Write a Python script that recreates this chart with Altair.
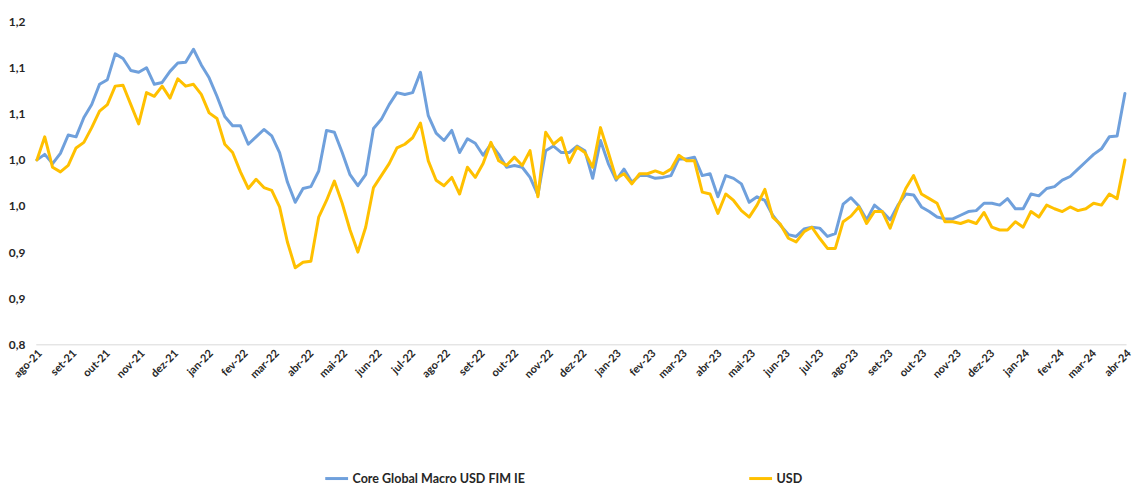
import altair as alt
import pandas as pd

# Weekly observations (Mondays) starting 2021-08-02
dates = pd.date_range("2021-08-02", periods=140, freq="7D").strftime("%Y-%m-%d").tolist()

core = [
    1.000, 1.006, 0.996, 1.007, 1.027, 1.025, 1.046, 1.060, 1.082, 1.087,
    1.115, 1.110, 1.097, 1.095, 1.100, 1.082, 1.084, 1.096, 1.105, 1.106,
    1.120, 1.103, 1.089, 1.069, 1.047, 1.037, 1.037, 1.017, 1.025, 1.033,
    1.026, 1.008, 0.976, 0.954, 0.969, 0.971, 0.988, 1.032, 1.030, 1.008,
    0.984, 0.972, 0.984, 1.034, 1.044, 1.060, 1.073, 1.071, 1.073, 1.095,
    1.048, 1.029, 1.021, 1.032, 1.008, 1.023, 1.018, 1.005, 1.017, 1.006,
    0.992, 0.994, 0.992, 0.981, 0.962, 1.010, 1.015, 1.008, 1.008, 1.015,
    1.010, 0.980, 1.021, 0.996, 0.978, 0.990, 0.976, 0.983, 0.983, 0.980,
    0.981, 0.983, 1.001, 1.001, 1.003, 0.983, 0.985, 0.960, 0.983, 0.980,
    0.974, 0.954, 0.960, 0.956, 0.940, 0.929, 0.919, 0.917, 0.925, 0.927,
    0.926, 0.917, 0.920, 0.952, 0.959, 0.950, 0.935, 0.951, 0.944, 0.935,
    0.951, 0.963, 0.962, 0.949, 0.944, 0.938, 0.936, 0.936, 0.940, 0.944,
    0.945, 0.953, 0.953, 0.951, 0.958, 0.947, 0.947, 0.963, 0.961, 0.969,
    0.971, 0.978, 0.982, 0.990, 0.998, 1.006, 1.012, 1.025, 1.026, 1.072,
]

usd = [
    1.000, 1.025, 0.992, 0.987, 0.994, 1.013, 1.019, 1.035, 1.053, 1.060,
    1.080, 1.081, 1.060, 1.039, 1.073, 1.069, 1.080, 1.067, 1.088, 1.080,
    1.082, 1.071, 1.051, 1.045, 1.017, 1.008, 0.987, 0.969, 0.979, 0.970,
    0.967, 0.949, 0.911, 0.883, 0.889, 0.890, 0.938, 0.956, 0.977, 0.953,
    0.924, 0.900, 0.927, 0.970, 0.983, 0.996, 1.013, 1.017, 1.024, 1.040,
    0.999, 0.978, 0.972, 0.981, 0.963, 0.992, 0.981, 0.996, 1.019, 0.999,
    0.994, 1.003, 0.994, 1.010, 0.960, 1.030, 1.017, 1.024, 0.997, 1.014,
    1.008, 0.992, 1.035, 1.008, 0.980, 0.985, 0.974, 0.985, 0.985, 0.988,
    0.985, 0.990, 1.005, 0.999, 0.999, 0.965, 0.963, 0.942, 0.963, 0.956,
    0.945, 0.938, 0.951, 0.968, 0.938, 0.930, 0.915, 0.911, 0.922, 0.927,
    0.915, 0.904, 0.904, 0.933, 0.939, 0.949, 0.931, 0.944, 0.944, 0.926,
    0.949, 0.969, 0.983, 0.963, 0.958, 0.953, 0.933, 0.933, 0.931, 0.934,
    0.931, 0.943, 0.927, 0.924, 0.924, 0.933, 0.927, 0.944, 0.938, 0.951,
    0.947, 0.944, 0.949, 0.945, 0.947, 0.953, 0.951, 0.963, 0.958, 1.000,
]

series_names = ["Core Global Macro USD FIM IE", "USD"]
series_colors = ["#6FA0DC", "#FFC000"]
y_ticks = [0.80, 0.85, 0.90, 0.95, 1.00, 1.05, 1.10, 1.15]
month_labels = ["jan", "fev", "mar", "abr", "mai", "jun",
                "jul", "ago", "set", "out", "nov", "dez"]
month_ticks = pd.date_range("2021-08-01", "2024-04-01", freq="MS")

assert len(core) == len(dates) == len(usd)

rows = []
for name, vals in zip(series_names, [core, usd]):
    for d, v in zip(dates, vals):
        rows.append({"date": d, "value": v, "series": name})
df = pd.DataFrame(rows)

tick_ms = [int(t.value // 10**6) for t in month_ticks]
x_start = int(pd.Timestamp("2021-08-01").value // 10**6)
x_end = int(pd.Timestamp("2024-04-02").value // 10**6)

month_arr = "[" + ",".join(f"'{m}'" for m in month_labels) + "]"
x_label_expr = f"{month_arr}[utcmonth(datum.value)] + '-' + utcFormat(datum.value, '%y')"
y_label_expr = "replace(format(floor(datum.value * 10 + 0.5 + 1e-6) / 10, '.1f'), '.', ',')"

font = "Lato"
text_color = "#262626"

chart = (
    alt.Chart(df)
    .mark_line(strokeWidth=3, strokeJoin="round", strokeCap="round")
    .encode(
        x=alt.X(
            "date:T",
            title=None,
            scale=alt.Scale(type="utc", domain=[x_start, x_end], nice=False),
            axis=alt.Axis(
                values=tick_ms,
                labelExpr=x_label_expr,
                labelAngle=315,
                labelAlign="right",
                labelBaseline="top",
                labelPadding=3,
                ticks=False,
                tickSize=0,
                grid=False,
                domainColor="#D9D9D9",
                domainWidth=1,
                labelFont=font,
                labelFontSize=11,
                labelFontWeight="bold",
                labelColor=text_color,
                labelOverlap=False,
            ),
        ),
        y=alt.Y(
            "value:Q",
            title=None,
            scale=alt.Scale(domain=[0.80, 1.15], nice=False, zero=False),
            axis=alt.Axis(
                values=y_ticks,
                labelExpr=y_label_expr,
                ticks=False,
                tickSize=0,
                domain=False,
                grid=False,
                labelPadding=11,
                labelFont=font,
                labelFontSize=12,
                labelFontWeight="bold",
                labelColor=text_color,
            ),
        ),
        color=alt.Color(
            "series:N",
            sort=series_names,
            scale=alt.Scale(domain=series_names, range=series_colors),
            legend=alt.Legend(
                title=None,
                orient="none",
                legendX=290,
                legendY=447,
                direction="horizontal",
                symbolType="stroke",
                symbolStrokeWidth=3,
                symbolSize=529,
                labelOffset=3,
                labelLimit=0,
                columnPadding=219,
                labelFont=font,
                labelFontSize=12.6,
                labelFontWeight="bold",
                labelColor=text_color,
            ),
        ),
    )
    .properties(
        width=1098,
        height=325,
        autosize=alt.AutoSizeParams(type="none"),
        padding={"left": 28, "top": 12, "right": 7, "bottom": 140},
    )
    .configure_view(stroke=None)
)

chart.save("out.html", embed_options={"renderer": "svg", "actions": False})
